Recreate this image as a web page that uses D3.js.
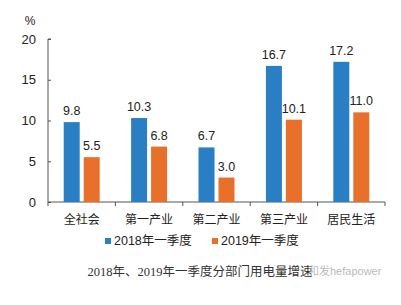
<!DOCTYPE html>
<html><head><meta charset="utf-8">
<script src="https://cdn.jsdelivr.net/npm/d3@7"></script>
<style>body{margin:0;background:#fff}svg{display:block}</style>
</head><body>
<svg id="c" width="401" height="305"></svg>
<script>
const categories = ["全社会","第一产业","第二产业","第三产业","居民生活"];
const series2018 = [9.8,10.3,6.7,16.7,17.2];
const series2019 = [5.5,6.8,3.0,10.1,11.0];
const seriesNames = ["2018年一季度","2019年一季度"];
const yTicks = [0,5,10,15,20];
const colors = ["#2a7fc4","#e8702a"];
const titleText = "2018年、2019年一季度分部门用电量增速";

const svg = d3.select("#c");
const font = "'Liberation Sans','Noto Sans CJK SC',Arial,sans-serif";
const x = d3.scaleBand().domain(categories).range([48,385]).padding(0);
const y = d3.scaleLinear().domain([0,20]).range([202,39]);
const axisColor = "#555";

// y axis
const ya = svg.append("g").attr("transform","translate(48,0)")
  .call(d3.axisRight(y).tickValues(yTicks).tickSize(3).tickFormat(""));
ya.selectAll("path,line").attr("stroke",axisColor);
ya.select(".domain").attr("d","M3,39H0V202");
svg.selectAll(".ytl").data(yTicks).enter().append("text")
  .attr("x",36).attr("y",d=>y(d)).attr("dy","0.35em")
  .attr("text-anchor","end").attr("font-family",font).attr("font-size",13).attr("fill","#222")
  .text(d=>d);
svg.append("text").attr("x",30).attr("y",25).attr("text-anchor","middle")
  .attr("font-family",font).attr("font-size",12).attr("fill","#222").text("%");

// x axis
const xa = svg.append("g").attr("transform","translate(0,202)")
  .call(d3.axisBottom(x).tickSize(0).tickFormat(""));
xa.select(".domain").attr("stroke",axisColor).attr("d","M48,0H385");
const bounds = categories.map(c=>x(c)).concat([x(categories[categories.length-1])+x.bandwidth()]);
xa.selectAll(".bt").data(bounds).enter().append("line")
  .attr("x1",d=>d).attr("x2",d=>d).attr("y1",0).attr("y2",4).attr("stroke",axisColor);
svg.selectAll(".xtl").data(categories).enter().append("text")
  .attr("x",d=>x(d)+x.bandwidth()/2).attr("y",220).attr("dy","0.35em")
  .attr("text-anchor","middle").attr("font-family",font).attr("font-size",12).attr("fill","#222")
  .text(d=>d);

// bars
const barW = 16, gap = 4;
const data = [series2018, series2019];
data.forEach((vals,si)=>{
  const off = si===0 ? -gap/2-barW : gap/2;
  svg.selectAll(".b"+si).data(categories).enter().append("rect")
    .attr("x",(d)=>x(d)+x.bandwidth()/2+off)
    .attr("y",(d,i)=>y(vals[i])).attr("width",barW)
    .attr("height",(d,i)=>y(0)-y(vals[i])).attr("fill",colors[si]);
  svg.selectAll(".l"+si).data(categories).enter().append("text")
    .attr("x",(d)=>x(d)+x.bandwidth()/2+off+barW/2)
    .attr("y",(d,i)=>y(vals[i])-7)
    .attr("text-anchor","middle").attr("font-family",font).attr("font-size",12.5).attr("fill","#222")
    .text((d,i)=>vals[i].toFixed(1));
});

// legend
const legX = [105,212];
seriesNames.forEach((n,i)=>{
  svg.append("rect").attr("x",legX[i]).attr("y",238).attr("width",6).attr("height",6).attr("fill",colors[i]);
  svg.append("text").attr("x",legX[i]+9).attr("y",241).attr("dy","0.35em")
    .attr("font-family",font).attr("font-size",12.5).attr("fill","#222").text(n);
});

// caption
svg.append("text").attr("x",200).attr("y",272).attr("dy","0.35em").attr("text-anchor","middle")
  .attr("font-family","'Liberation Serif','DejaVu Serif','Noto Sans CJK SC',serif").attr("font-size",12.5).attr("fill","#333")
  .text(titleText);
// watermark
svg.append("text").attr("x",308).attr("y",271).attr("dy","0.35em")
  .attr("font-family",font).attr("font-size",11).attr("fill","#aaa").attr("opacity",0.8).text("和发hefapower");
</script>
</body></html>
